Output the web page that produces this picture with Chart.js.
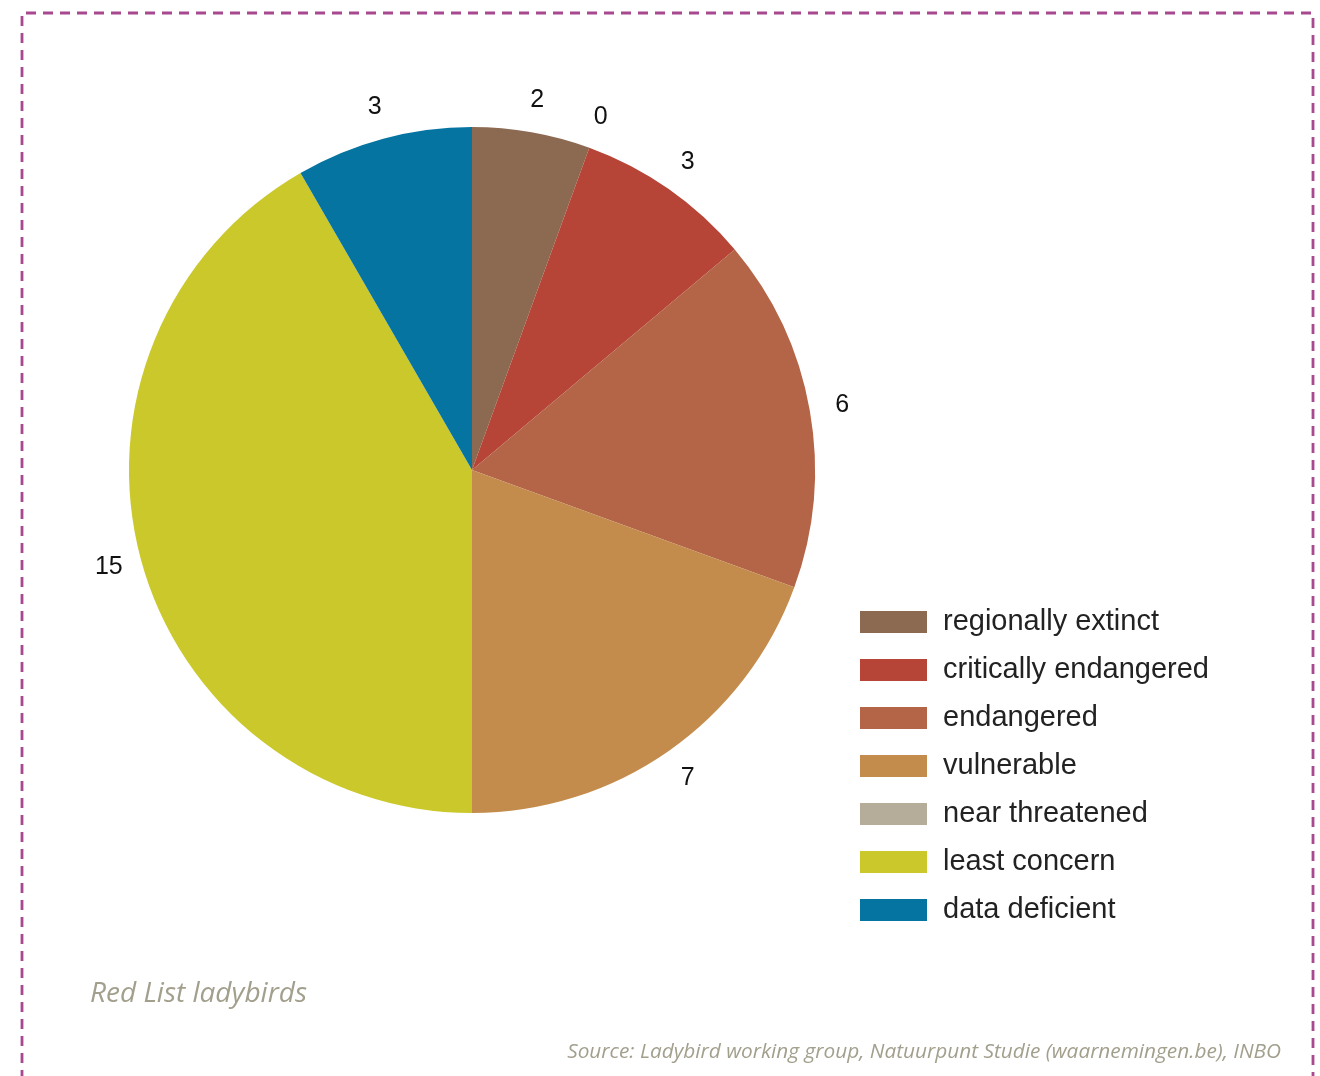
<!DOCTYPE html>
<html>
<head>
<meta charset="utf-8">
<title>Red List ladybirds</title>
<script src="https://cdn.jsdelivr.net/npm/chart.js@4"></script>
<style>
  html, body { margin: 0; padding: 0; background: #fff; }
  #wrap { position: relative; width: 1320px; height: 1076px; }
</style>
</head>
<body>
<div id="wrap"><canvas id="pie" width="1320" height="1076"></canvas></div>
<script>
// slices in drawing order, clockwise from 12 o'clock
const categories = ['regionally extinct', 'near threatened', 'critically endangered', 'endangered', 'vulnerable', 'least concern', 'data deficient'];
const counts = [2, 0, 3, 6, 7, 15, 3];
const colours = ['#8c6a52', '#b5ad99', '#b64537', '#b46547', '#c48c4c', '#cac82b', '#0574a1'];
// legend reads in Red List order
const legendOrder = ['regionally extinct', 'critically endangered', 'endangered', 'vulnerable', 'near threatened', 'least concern', 'data deficient'];

const caption = 'Red List ladybirds';
const source = 'Source: Ladybird working group, Natuurpunt Studie (waarnemingen.be), INBO';

const framePlugin = {
  id: 'frame',
  beforeDraw(chart) {
    const ctx = chart.ctx;
    ctx.save();
    ctx.fillStyle = '#fff';
    ctx.fillRect(0, 0, chart.width, chart.height);
    ctx.strokeStyle = '#a8488f';
    ctx.lineWidth = 2.8;
    ctx.setLineDash([10, 7]);
    ctx.beginPath();
    ctx.moveTo(22, 1080);
    ctx.lineTo(22, 13);
    ctx.lineTo(1313, 13);
    ctx.lineTo(1313, 1080);
    ctx.stroke();
    ctx.restore();
  },
  afterDraw(chart) {
    const ctx = chart.ctx;
    ctx.save();
    ctx.fillStyle = '#a29f8d';
    ctx.textBaseline = 'alphabetic';
    ctx.font = 'italic 28px "Open Sans"';
    ctx.textAlign = 'left';
    ctx.fillText(caption, 90, 1002);
    ctx.font = 'italic 20.8px "Open Sans"';
    ctx.textAlign = 'right';
    ctx.fillText(source, 1281, 1058);
    ctx.restore();
  }
};

// value labels just outside the rim, on each slice's middle angle
const valueLabels = {
  id: 'valueLabels',
  afterDatasetsDraw(chart) {
    const ctx = chart.ctx;
    const arcs = chart.getDatasetMeta(0).data;
    ctx.save();
    ctx.font = '25px "Liberation Sans", Arial';
    ctx.fillStyle = '#111';
    ctx.textAlign = 'center';
    ctx.textBaseline = 'middle';
    arcs.forEach((arc, i) => {
      const { x, y, startAngle, endAngle, outerRadius } = arc.getProps(['x', 'y', 'startAngle', 'endAngle', 'outerRadius'], true);
      const mid = (startAngle + endAngle) / 2;
      const r = outerRadius + 33;
      ctx.fillText(String(counts[i]), x + Math.cos(mid) * r, y + Math.sin(mid) * r);
    });
    ctx.restore();
  }
};

const sideLegend = {
  id: 'sideLegend',
  afterDraw(chart) {
    const ctx = chart.ctx;
    ctx.save();
    ctx.font = '29px "Liberation Sans", Arial';
    ctx.textAlign = 'left';
    ctx.textBaseline = 'middle';
    legendOrder.forEach((name, k) => {
      const i = categories.indexOf(name);
      const cy = 622 + k * 48;
      ctx.fillStyle = colours[i];
      ctx.fillRect(860, cy - 11, 67, 22);
      ctx.fillStyle = '#222';
      ctx.fillText(name, 943, cy);
    });
    ctx.restore();
  }
};

new Chart(document.getElementById('pie'), {
  type: 'pie',
  data: {
    labels: categories,
    datasets: [{
      data: counts,
      backgroundColor: colours,
      borderWidth: 0
    }]
  },
  options: {
    responsive: false,
    animation: false,
    layout: { padding: { left: 129, right: 505, top: 127, bottom: 263 } },
    plugins: {
      legend: { display: false },
      tooltip: { enabled: false }
    }
  },
  plugins: [framePlugin, valueLabels, sideLegend]
});
</script>
</body>
</html>
